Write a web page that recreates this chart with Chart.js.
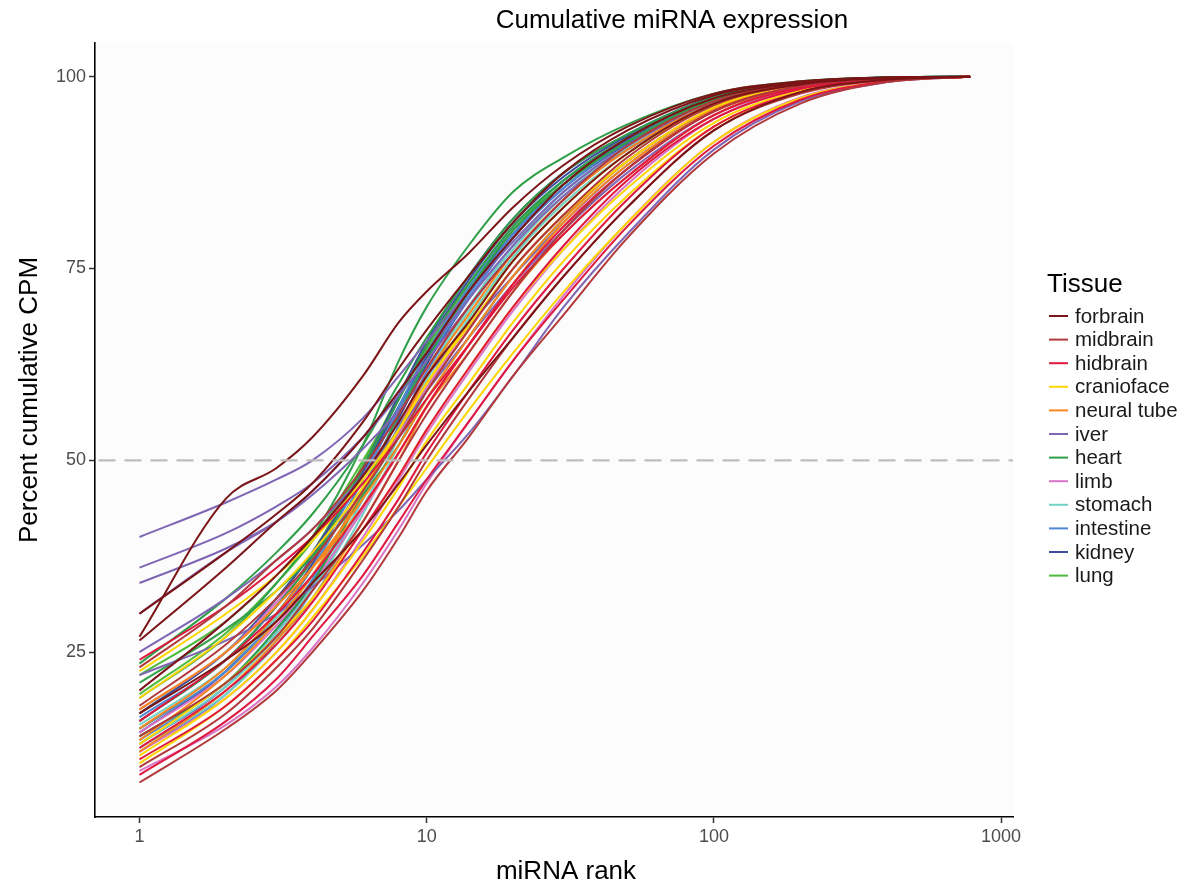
<!DOCTYPE html>
<html lang="en">
<head>
<meta charset="UTF-8">
<title>Cumulative miRNA expression</title>
<script src="https://cdn.jsdelivr.net/npm/chart.js"></script>
<style>
  html, body { margin: 0; padding: 0; background: #fff; }
  #wrap { width: 1187px; height: 888px; }
</style>
</head>
<body>
<div id="wrap"><canvas id="myChart"></canvas></div>
<script>
// miRNA rank at which each cumulative value is taken
const ranks = [1, 2, 3, 4, 6, 8, 10, 14, 20, 30, 50, 100, 200, 400, 780];

const tissues = ['forbrain', 'midbrain', 'hidbrain', 'cranioface', 'neural tube', 'iver',
  'heart', 'limb', 'stomach', 'intestine', 'kidney', 'lung'];
const tissueColors = ['#7b1416', '#b2393b', '#e0173f', '#fed600', '#f7861e', '#7f66b5',
  '#2f9f48', '#d975c6', '#72d3c5', '#4f87d6', '#3d4c9f', '#4dbb3b'];

// percent cumulative CPM, one row per sample
const forbrain = [
  [27, 45, 49, 53, 61, 68, 72, 77, 83, 88.5, 93.5, 97.8, 99.4, 99.9, 100],
  [30, 38, 43, 47, 55, 62, 67, 74, 81, 87.5, 93, 97.6, 99.3, 99.9, 100],
  [26.5, 36, 42, 46, 53, 59, 64, 72, 79, 86, 92, 97.2, 99.2, 99.9, 100],
  [20, 29, 35, 40, 48, 55, 61, 68, 76, 83, 90, 96.5, 99, 99.8, 100],
  [17, 24, 29, 34, 41, 47, 52, 59, 66, 74, 83, 93, 98, 99.6, 100]
];
const midbrain = [
  [8, 15, 20, 25, 33, 40, 46, 53, 61, 69, 79, 90, 96.5, 99.3, 100],
  [10, 17, 23, 28, 37, 44, 50, 58, 66, 74, 83, 93, 97.8, 99.6, 100],
  [14, 21, 27, 33, 42, 50, 56, 64, 72, 80, 88, 95.5, 98.8, 99.8, 100],
  [18, 26, 32, 37, 46, 53, 59, 67, 75, 82, 89.5, 96.3, 99, 99.8, 100],
  [23, 31, 37, 41, 49, 56, 62, 70, 77, 84, 91, 96.8, 99.1, 99.8, 100]
];
const hidbrain = [
  [9, 16, 21.5, 27, 35, 42, 47.5, 55, 63, 71, 80.5, 91, 97, 99.4, 100],
  [11, 18, 24, 29, 38, 45, 51, 59, 67, 75, 84, 93.5, 98, 99.6, 100],
  [12.5, 20, 26, 31.5, 41, 48, 54, 62, 70, 78, 86.5, 94.5, 98.4, 99.7, 100],
  [16, 24, 30, 35, 44, 51, 57, 65, 73, 80.5, 88, 95.5, 98.8, 99.8, 100],
  [24, 31, 36, 40, 47, 53, 58, 65, 72.5, 79.5, 87, 95, 98.6, 99.7, 100]
];
const cranioface = [
  [10.5, 18, 24, 29.5, 37.5, 44, 49, 56.5, 64, 72, 81, 91.5, 97.2, 99.4, 100],
  [11.5, 19, 25, 30.5, 39.5, 46.5, 52.5, 60, 68, 76, 84.5, 93.5, 98, 99.6, 100],
  [13, 21, 27, 32, 41, 48, 54, 62, 70, 77.5, 85.5, 94, 98.2, 99.7, 100],
  [19, 27, 33, 38, 46.5, 54, 60, 67.5, 75, 82, 89, 96, 98.9, 99.8, 100],
  [22.5, 30, 35, 39.5, 47.5, 54, 60, 68, 76, 83, 90, 96.3, 99, 99.8, 100]
];
const neuralTube = [
  [12, 20, 26.5, 32, 42, 50, 57, 65, 73, 81, 88.5, 95.5, 98.8, 99.8, 100],
  [13.5, 22, 29, 35, 46, 54, 61, 69, 77, 84, 90.5, 96.5, 99, 99.8, 100],
  [15, 23, 30, 36, 45, 52, 58, 66, 74, 81.5, 89, 95.8, 98.9, 99.8, 100],
  [17.5, 25, 31, 36, 44, 51, 57, 64, 72, 79.5, 87, 95, 98.6, 99.7, 100]
];
const iver = [
  [40, 44.5, 47.5, 50, 55.5, 61, 65.5, 72, 78.5, 85, 91, 96.5, 99, 99.8, 100],
  [36, 40.5, 44, 47, 53, 58.5, 63, 70, 77, 84, 90.5, 96.2, 98.9, 99.8, 100],
  [34, 38.5, 42, 45.5, 51.5, 56.5, 61, 67.5, 74, 81, 88.5, 95.5, 98.7, 99.7, 100],
  [30, 38, 42, 46, 53, 59, 64, 71, 78, 84.5, 90.5, 96.3, 98.9, 99.8, 100],
  [25, 32, 37, 41, 48, 54, 59, 66, 73, 80, 87.5, 95, 98.5, 99.7, 100],
  [22, 26.5, 30, 33.5, 39, 43.5, 47.5, 53.5, 61, 70, 79.5, 90.5, 96.8, 99.3, 100]
];
const heart = [
  [19, 27, 34, 40, 52, 63, 70, 78, 85, 89.5, 93.8, 97.8, 99.4, 99.9, 100],
  [23.5, 32, 38, 43, 52, 60, 66, 74, 81.5, 87.5, 92.5, 97.3, 99.3, 99.9, 100],
  [16, 24, 31, 37, 49, 58, 65, 73, 80.5, 86.5, 92, 97.2, 99.2, 99.9, 100],
  [14, 21, 28, 34, 46, 56, 63, 72, 80, 86, 91.5, 97, 99.1, 99.8, 100],
  [21, 28, 33, 37.5, 45.5, 52, 58, 66, 74, 81.5, 89, 95.8, 98.9, 99.8, 100]
];
const limb = [
  [9.5, 15.5, 20.5, 25.5, 34, 41, 47, 55, 63, 71.5, 81, 91.5, 97.3, 99.4, 100],
  [12, 19, 25, 30.5, 40, 47.5, 53.5, 61.5, 69.5, 77.5, 86, 94.5, 98.5, 99.7, 100],
  [14.5, 22, 28.5, 34, 43.5, 51, 57, 65, 73, 80.5, 88, 95.5, 98.8, 99.8, 100],
  [17.5, 25, 31.5, 37, 46, 53.5, 59.5, 67, 75, 82, 89, 96, 98.9, 99.8, 100],
  [20, 29, 35, 40, 48, 55, 60, 67.5, 75, 82, 89, 96, 99, 99.8, 100]
];
const stomach = [
  [12.5, 19.5, 26, 32, 43, 52, 59, 68, 76.5, 84, 90.5, 96.5, 99, 99.8, 100],
  [14, 21, 27.5, 33.5, 45, 54, 61, 70, 78, 85, 91, 96.8, 99.1, 99.8, 100],
  [15.5, 23, 29.5, 35, 45.5, 53.5, 60, 68.5, 76.5, 83.5, 90, 96.3, 98.9, 99.8, 100],
  [13, 20.5, 27, 33, 44, 53, 60.5, 69.5, 77.5, 84.5, 90.8, 96.6, 99, 99.8, 100]
];
const intestine = [
  [13.5, 21, 28, 34.5, 46.5, 56, 63, 71.5, 79.5, 86, 91.5, 97, 99.2, 99.9, 100],
  [15, 22.5, 29.5, 36, 47.5, 57, 64, 72.5, 80.5, 86.5, 92, 97.2, 99.2, 99.9, 100],
  [16.5, 24, 31, 37, 48, 56.5, 63, 71, 79, 85.5, 91.5, 97, 99.1, 99.8, 100],
  [12, 19.5, 26.5, 33, 45, 54.5, 61.5, 70, 78, 85, 91, 96.8, 99.1, 99.8, 100]
];
const kidney = [
  [14.5, 22.5, 30, 36.5, 48.5, 58, 65, 73.5, 81, 87, 92.3, 97.3, 99.3, 99.9, 100],
  [16, 24, 31, 37.5, 49, 58.5, 65.5, 74, 81.5, 87.5, 92.5, 97.4, 99.3, 99.9, 100],
  [17, 25, 32, 38, 48.5, 57, 63.5, 72, 79.5, 86, 91.8, 97.1, 99.2, 99.9, 100],
  [13, 20.5, 27.5, 34, 46, 55.5, 62.5, 71, 79, 85.5, 91.3, 97, 99.1, 99.8, 100]
];
const lung = [
  [22, 29, 35, 40, 49, 57, 63.5, 72, 79.5, 86, 91.8, 97.1, 99.2, 99.9, 100],
  [17, 25, 32, 38, 49.5, 58.5, 65, 73, 80.5, 86.5, 92, 97.3, 99.3, 99.9, 100],
  [15, 22.5, 29.5, 36, 47.5, 57, 64, 72.5, 80, 86.5, 92, 97.2, 99.2, 99.9, 100],
  [19.5, 27.5, 34, 39.5, 50, 58, 64.5, 72.5, 80, 86, 91.5, 97, 99.2, 99.9, 100]
];

const samples = [forbrain, midbrain, hidbrain, cranioface, neuralTube, iver,
  heart, limb, stomach, intestine, kidney, lung];

const yTicks = [25, 50, 75, 100];
const xTicks = [1, 10, 100, 1000];

const FONT = "'Liberation Sans', Arial, sans-serif";

// dashed reference line at 50 % goes first so it is painted on top
const datasets = [{
  label: 'half',
  data: [{ x: 0.72, y: 50 }, { x: 1100, y: 50 }],
  borderColor: '#bdbdbd',
  borderWidth: 2.2,
  borderDash: [17, 9],
  pointRadius: 0
}];

samples.forEach((rows, t) => {
  rows.forEach(row => {
    datasets.push({
      label: tissues[t],
      data: ranks.map((r, i) => ({ x: r, y: row[i] })),
      borderColor: tissueColors[t],
      borderWidth: 2,
      pointRadius: 0,
      cubicInterpolationMode: 'monotone'
    });
  });
});

// panel fill, titles and the tissue key
const decorations = {
  id: 'decorations',
  beforeDraw(chart) {
    const { ctx, chartArea: a } = chart;
    ctx.save();
    ctx.fillStyle = '#fcfcfc';
    ctx.fillRect(a.left, a.top, a.right - a.left, a.bottom - a.top);
    ctx.restore();
  },
  afterDraw(chart) {
    const ctx = chart.ctx;
    ctx.save();
    ctx.fillStyle = '#000';
    ctx.textBaseline = 'alphabetic';

    ctx.font = '26px ' + FONT;
    ctx.textAlign = 'center';
    ctx.fillText('Cumulative miRNA expression', 672, 28);
    ctx.fillText('miRNA rank', 566, 879);

    ctx.save();
    ctx.translate(37, 400);
    ctx.rotate(-Math.PI / 2);
    ctx.fillText('Percent cumulative CPM', 0, 0);
    ctx.restore();

    ctx.textAlign = 'left';
    ctx.font = '26px ' + FONT;
    ctx.fillText('Tissue', 1047, 292);

    ctx.font = '20.5px ' + FONT;
    ctx.textBaseline = 'middle';
    tissues.forEach((name, i) => {
      const y = 316 + i * 23.6;
      ctx.strokeStyle = tissueColors[i];
      ctx.lineWidth = 2;
      ctx.beginPath();
      ctx.moveTo(1049, y);
      ctx.lineTo(1068, y);
      ctx.stroke();
      ctx.fillStyle = '#1a1a1a';
      ctx.fillText(name, 1075, y + 1);
    });
    ctx.restore();
  }
};

new Chart(document.getElementById('myChart'), {
  type: 'line',
  data: { datasets },
  options: {
    responsive: true,
    maintainAspectRatio: false,
    animation: false,
    layout: { padding: { top: 43, right: 174, bottom: 0, left: 0 } },
    plugins: {
      legend: { display: false },
      tooltip: { enabled: false }
    },
    scales: {
      x: {
        type: 'logarithmic',
        min: 0.72,
        max: 1100,
        afterBuildTicks: s => { s.ticks = xTicks.map(v => ({ value: v })); },
        afterFit: s => { s.height = 71; },
        ticks: {
          callback: v => String(v),
          color: '#4d4d4d',
          font: { family: FONT, size: 18 },
          padding: 3,
          autoSkip: false,
          maxRotation: 0
        },
        grid: { drawOnChartArea: false, tickLength: 6, tickColor: '#333', tickWidth: 1.5 },
        border: { color: '#000', width: 1.6 }
      },
      y: {
        type: 'linear',
        min: 3.5,
        max: 104.4,
        afterBuildTicks: s => { s.ticks = yTicks.map(v => ({ value: v })); },
        afterFit: s => { s.width = 95; },
        ticks: {
          color: '#4d4d4d',
          font: { family: FONT, size: 18 },
          padding: 3
        },
        grid: { drawOnChartArea: false, tickLength: 6, tickColor: '#333', tickWidth: 1.5 },
        border: { color: '#000', width: 1.6 }
      }
    }
  },
  plugins: [decorations]
});
</script>
</body>
</html>
